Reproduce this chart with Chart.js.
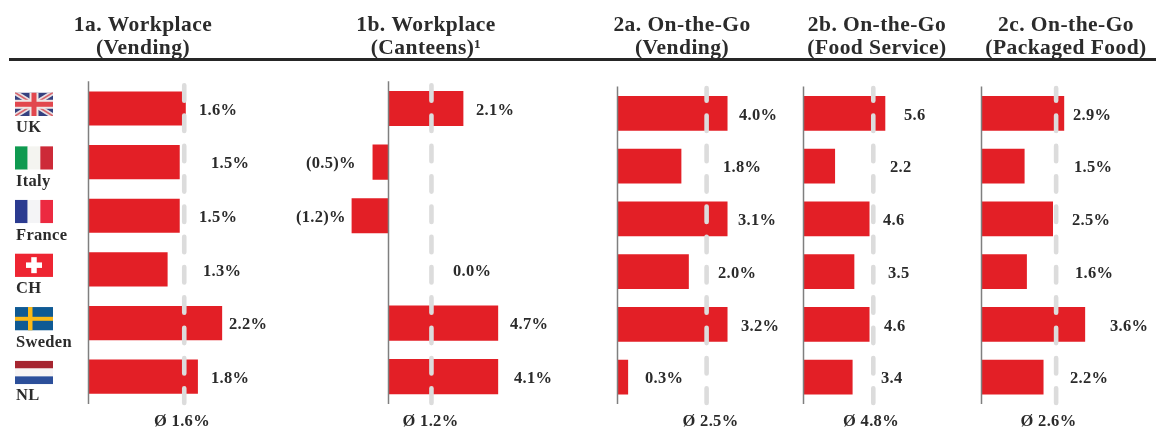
<!DOCTYPE html>
<html><head><meta charset="utf-8">
<style>
html,body{margin:0;padding:0;background:#fff;overflow:hidden}
#page{position:relative;width:1156px;height:430px;overflow:hidden;filter:blur(0.35px)}
.panel{position:absolute;top:0;height:430px}
#rule{position:absolute;left:9px;right:0;top:58px;height:3px;background:#262626}
</style>
<script src="https://cdn.jsdelivr.net/npm/chart.js@4"></script>
</head><body>
<div id="page"><div id="rule"></div></div>
<script>
// ---- data ----
const categories = ['UK','Italy','France','CH','Sweden','NL'];

const titles1a = ['1a. Workplace','(Vending)'];
const titles1b = ['1b. Workplace','(Canteens)¹'];
const titles2a = ['2a. On-the-Go','(Vending)'];
const titles2b = ['2b. On-the-Go','(Food Service)'];
const titles2c = ['2c. On-the-Go','(Packaged Food)'];

// drawn bar lengths (the source caps some bars, so they differ from the printed labels)
const bars1a = [1.6,1.5,1.5,1.3,2.2,1.8];
const bars1b = [2.1,-0.44,-1.03,0,3.08,3.08];
const bars2a = [3.09,1.79,3.09,2.0,3.09,0.29];
const bars2b = [5.58,2.14,4.5,3.46,4.5,3.34];
const bars2c = [2.87,1.49,2.48,1.57,3.6,2.15];

// printed value labels
const labels1a = ['1.6%','1.5%','1.5%','1.3%','2.2%','1.8%'];
const labels1b = ['2.1%','(0.5)%','(1.2)%','0.0%','4.7%','4.1%'];
const labels2a = ['4.0%','1.8%','3.1%','2.0%','3.2%','0.3%'];
const labels2b = ['5.6','2.2','4.6','3.5','4.6','3.4'];
const labels2c = ['2.9%','1.5%','2.5%','1.6%','3.6%','2.2%'];

// position of the dashed average line as drawn
const mean1a = 1.58, mean1b = 1.21, mean2a = 2.51, mean2b = 4.78, mean2c = 2.6;
const meanText1a = 'Ø 1.6%', meanText1b = 'Ø 1.2%', meanText2a = 'Ø 2.5%', meanText2b = 'Ø 4.8%', meanText2c = 'Ø 2.6%';

// ---- layout and style ----
const RED = '#E31F26', INK = '#2b2b2b', AXIS = '#7f7f7f', DASH = '#dcdcdc';
const SERIF = '"Liberation Serif", serif';
const panels = [
 {left:0,  width:286,axis:88.5, ppu:60.6,top:81.7,barH:33.5,title:titles1a,bars:bars1a,labels:labels1a,mean:mean1a,meanText:meanText1a,meanX:182,
  labelX:[199,211,199,203,229,211],flags:true},
 {left:290,width:272,axis:388.5,ppu:35.5,top:81.7,barH:34.5,title:titles1b,bars:bars1b,labels:labels1b,mean:mean1b,meanText:meanText1b,meanX:430.5,
  labelX:[476,306,296,453,510,514]},
 {left:582,width:200,axis:617.5,ppu:35.5,top:87,barH:34,title:titles2a,bars:bars2a,labels:labels2a,mean:mean2a,meanText:meanText2a,meanX:710.5,
  labelX:[739,723,738,718,741,645]},
 {left:802,width:150,axis:803.5,ppu:14.6,top:87,barH:34,title:titles2b,bars:bars2b,labels:labels2b,mean:mean2b,meanText:meanText2b,meanX:871,
  labelX:[904,890,883,888,884,881]},
 {left:976,width:180,axis:981.5,ppu:28.7,top:87,barH:34,title:titles2c,bars:bars2c,labels:labels2c,mean:mean2c,meanText:meanText2c,meanX:1048.5,
  labelX:[1073,1074,1072,1075,1110,1070]}
];

function drawFlag(ctx,name,x,y,w,h){
  const stripesV=(a,b,c)=>{ctx.fillStyle=a;ctx.fillRect(x,y,w/3,h);ctx.fillStyle=b;ctx.fillRect(x+w/3,y,w/3,h);ctx.fillStyle=c;ctx.fillRect(x+2*w/3,y,w/3,h);};
  const stripesH=(a,b,c)=>{ctx.fillStyle=a;ctx.fillRect(x,y,w,h/3);ctx.fillStyle=b;ctx.fillRect(x,y+h/3,w,h/3);ctx.fillStyle=c;ctx.fillRect(x,y+2*h/3,w,h/3);};
  ctx.save();
  ctx.beginPath();ctx.rect(x,y,w,h);ctx.clip();
  if(name==='UK'){
    ctx.fillStyle='#34407f';ctx.fillRect(x,y,w,h);
    ctx.strokeStyle='#e6dfe3';ctx.lineWidth=5;
    ctx.beginPath();ctx.moveTo(x,y);ctx.lineTo(x+w,y+h);ctx.moveTo(x+w,y);ctx.lineTo(x,y+h);ctx.stroke();
    ctx.strokeStyle='#d9656b';ctx.lineWidth=1.6;ctx.stroke();
    ctx.fillStyle='#efe6e6';ctx.fillRect(x+w/2-4.5,y,9,h);ctx.fillRect(x,y+h/2-4.5,w,9);
    ctx.fillStyle='#e2474e';ctx.fillRect(x+w/2-2.5,y,5,h);ctx.fillRect(x,y+h/2-2.5,w,5);
  } else if(name==='Italy'){ stripesV('#0f9a50','#f4f4f0','#cd2a38'); }
  else if(name==='France'){ stripesV('#2b3b90','#f4f4f6','#ec2a40'); }
  else if(name==='CH'){
    ctx.fillStyle='#ee2532';ctx.fillRect(x,y,w,h);
    ctx.fillStyle='#fff';ctx.fillRect(x+w/2-8,y+h/2-2.75,16,5.5);ctx.fillRect(x+w/2-2.75,y+h/2-8,5.5,16);
  } else if(name==='Sweden'){
    ctx.fillStyle='#0f5a94';ctx.fillRect(x,y,w,h);
    ctx.fillStyle='#fbb917';ctx.fillRect(x+13,y,4.5,h);ctx.fillRect(x,y+h/2-2,w,4);
  } else { stripesH('#a62530','#f7f4f4','#2c4f9a'); }
  ctx.restore();
}

const panelPainter = {
  id:'panelPainter',
  beforeDraw(chart){ chart.ctx.letterSpacing = '0.45px'; },
  afterDatasetsDraw(chart,args,opts){
    const p = opts.panel, ctx = chart.ctx, xs = chart.scales.x, ys = chart.scales.y, a = chart.chartArea;
    const zero = xs.getPixelForValue(0);
    ctx.save();
    // axis line
    ctx.strokeStyle = AXIS; ctx.lineWidth = 1.5;
    ctx.beginPath(); ctx.moveTo(zero,a.top - 0.5); ctx.lineTo(zero,a.bottom + 0.5); ctx.stroke();
    // dashed mean line
    const mx = xs.getPixelForValue(p.mean);
    ctx.strokeStyle = DASH; ctx.lineWidth = 4.6; ctx.lineCap = 'round';
    ctx.setLineDash([15.4,14.9]);
    const start = Math.max(85.3, a.top + 1);
    ctx.lineDashOffset = start - 85.3;
    ctx.beginPath(); ctx.moveTo(mx,start); ctx.lineTo(mx,403); ctx.stroke();
    ctx.setLineDash([]);
    // value labels
    ctx.letterSpacing = '0.3px';
    ctx.fillStyle = INK; ctx.textBaseline = 'middle'; ctx.textAlign = 'left';
    ctx.font = 'bold 16.5px ' + SERIF;
    p.labels.forEach((t,i)=>{
      ctx.fillText(t, p.labelX[i] - p.left, ys.getPixelForValue(i) + 2);
    });
    // mean caption
    ctx.textAlign = 'center';
    ctx.fillText(p.meanText, p.meanX - p.left, 422);
    // flags and country names
    if(p.flags){
      categories.forEach((name,i)=>{
        const c = ys.getPixelForValue(i);
        drawFlag(ctx,name,15,c-16,38,23.5);
        ctx.fillStyle = INK; ctx.textAlign='left'; ctx.textBaseline='middle';
        ctx.font = 'bold 16.5px ' + SERIF;
        ctx.fillText(name,16,c+19.5);
      });
    }
    ctx.restore();
  }
};

panels.forEach(p=>{
  const box = document.createElement('div');
  box.className='panel';
  box.style.left=p.left+'px'; box.style.width=p.width+'px';
  const cv = document.createElement('canvas');
  box.appendChild(cv);
  document.getElementById('page').appendChild(box);
  new Chart(cv,{
    type:'bar',
    data:{labels:categories,datasets:[{data:p.bars,backgroundColor:RED,borderWidth:0,barThickness:p.barH}]},
    options:{
      indexAxis:'y',responsive:true,maintainAspectRatio:false,animation:false,
      layout:{padding:{top:0,left:0,right:0,bottom:430-403.5}},
      scales:{
        x:{display:false,min:(p.left-p.axis)/p.ppu,max:(p.left+p.width-p.axis)/p.ppu},
        y:{display:false}
      },
      plugins:{
        legend:{display:false},tooltip:{enabled:false},
        title:{display:true,text:p.title,color:INK,align:'center',
          font:{family:SERIF,size:21.5,weight:'bold',lineHeight:1.07},
          padding:{top:13.5,bottom:p.top-59.5}},
        panelPainter:{panel:p}
      }
    },
    plugins:[panelPainter]
  });
});
</script>
</body></html>
